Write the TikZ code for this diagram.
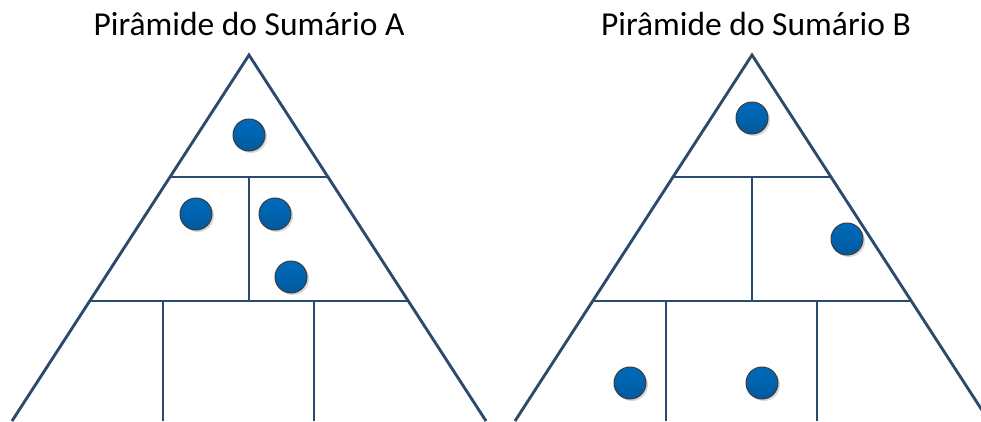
\documentclass[tikz,border=0pt]{standalone}
\usepackage{fontspec}
\setmainfont{Carlito}
\usetikzlibrary{calc}
\definecolor{linec}{HTML}{2B4B6E}
\definecolor{dotTop}{HTML}{006BBB}
\definecolor{dotBot}{HTML}{005A9E}
\definecolor{dotEdge}{HTML}{3A3A3A}
\tikzset{
  x=1pt,y=-1pt,
  wall/.style={draw=linec,line width=2.8pt},
  wallshadow/.style={draw=black!18,line width=2.8pt},
  dot/.style={circle,minimum size=32pt,inner sep=0pt,draw=dotEdge,line width=1pt,
    top color=dotTop,bottom color=dotBot},
  dotshadow/.style={circle,minimum size=32pt,inner sep=0pt,fill=black!15},
  title/.style={font=\fontsize{33.5}{38}\selectfont,text=black,inner sep=0pt},
  pyramid/.pic={
    \coordinate (-apex) at (0,55);
    \coordinate (-bl) at (-237,421);
    \coordinate (-br) at (237,421);
    \coordinate (-l1) at (-79,177);
    \coordinate (-r1) at (79,177);
    \coordinate (-l2) at (-159.3,301);
    \coordinate (-r2) at (159.3,301);
    \coordinate (-m1) at (0,177);
    \coordinate (-m2) at (0,301);
    \coordinate (-v1t) at (-86,301);
    \coordinate (-v1b) at (-86,421);
    \coordinate (-v2t) at (65,301);
    \coordinate (-v2b) at (65,421);
    \begin{scope}[shift={(1.5,1.5)}]
      \draw[wallshadow] (-bl) -- (-apex) -- (-br);
      \draw[wallshadow] (-l1) -- (-r1) (-l2) -- (-r2) (-m1) -- (-m2)
        (-v1t) -- (-v1b) (-v2t) -- (-v2b);
    \end{scope}
    \draw[wall,line join=miter] (-bl) -- (-apex) -- (-br);
    \draw[wall] (-l1) -- (-r1) (-l2) -- (-r2) (-m1) -- (-m2)
      (-v1t) -- (-v1b) (-v2t) -- (-v2b);
  }
}
\begin{document}
\begin{tikzpicture}
\useasboundingbox (0,0) rectangle (981,421);
\clip (0,0) rectangle (981,421);
\pic (A) at (249,0) {pyramid};
\pic (B) at (752,0) {pyramid};
\node[title,anchor=base] (tA) at (249,35) {Pirâmide do Sumário A};
\node[title,anchor=base] (tB) at (756,35) {Pirâmide do Sumário B};
\foreach \n/\px/\py in {a1/249/135,a2/196/214,a3/275/214,a4/291/277,
                   b1/752/118,b2/847/239,b3/630/383,b4/762/383}{
  \node[dotshadow] at (\px+2,\py+2) {};
  \node[dot] (\n) at (\px,\py) {};
}
\end{tikzpicture}
\end{document}
